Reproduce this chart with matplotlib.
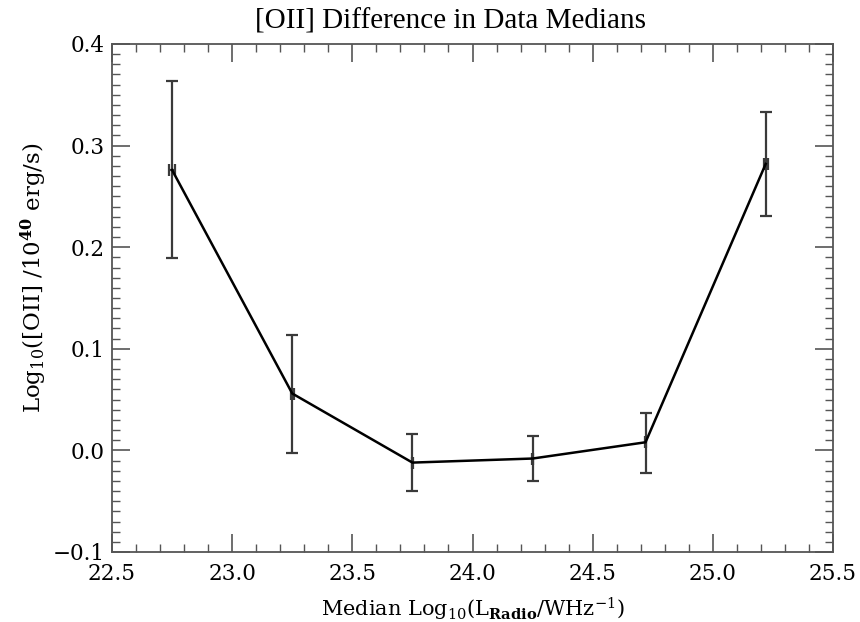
import matplotlib
matplotlib.use("Agg")
import matplotlib.pyplot as plt
from matplotlib.ticker import MultipleLocator

plt.rcParams["font.family"] = ["DejaVu Serif"]
plt.rcParams["mathtext.fontset"] = "dejavuserif"

# Median radio luminosity per bin and the [OII] median difference
radio_lum = [22.75, 23.25, 23.75, 24.25, 24.72, 25.22]
oii_diff = [0.276, 0.056, -0.012, -0.008, 0.008, 0.282]
err_lo = [0.087, 0.059, 0.028, 0.022, 0.030, 0.051]
err_hi = [0.088, 0.058, 0.028, 0.022, 0.029, 0.051]
x_err = [0.011, 0.006, 0.003, 0.003, 0.003, 0.009]

x_ticks = [22.5, 23.0, 23.5, 24.0, 24.5, 25.0, 25.5]
y_ticks = [-0.1, 0.0, 0.1, 0.2, 0.3, 0.4]

fig = plt.figure(figsize=(8.6, 6.22), dpi=100)
ax = fig.add_axes([112 / 860, 1 - 552 / 622, 721 / 860, 508 / 622])

ax.errorbar(radio_lum, oii_diff, yerr=[err_lo, err_hi], xerr=x_err,
            fmt="none", ecolor="#3a3a3a", elinewidth=1.6, capsize=4,
            capthick=1.6, zorder=2)
ax.plot(radio_lum, oii_diff, color="black", lw=1.8, zorder=3)

ax.set_xlim(22.5, 25.5)
ax.set_ylim(-0.1, 0.4)
ax.set_xticks(x_ticks)
ax.set_xticklabels([f"{v:.1f}" for v in x_ticks])
ax.set_yticks(y_ticks)
ax.set_yticklabels([f"{v:.1f}".replace("-", "\u2212") for v in y_ticks])
ax.xaxis.set_minor_locator(MultipleLocator(0.1))
ax.yaxis.set_minor_locator(MultipleLocator(0.01))
ax.tick_params(which="both", direction="in", top=True, right=True,
               color="#555555", labelsize=15.5)
ax.tick_params(axis="x", pad=8)
ax.tick_params(axis="y", pad=5)
ax.tick_params(which="major", length=13, width=1.2)
ax.tick_params(which="minor", length=6, width=1.0)
for s in ax.spines.values():
    s.set_color("#555555")
    s.set_linewidth(1.3)

ax.set_title("[OII] Difference in Data Medians", fontsize=21,
             family="Liberation Serif", x=0.47, pad=11)
ax.set_xlabel(r"Median Log$_{10}$(L$_{\mathbf{Radio}}$/WHz$^{-1}$)",
              fontsize=15, labelpad=8)
ax.set_ylabel(r"Log$_{10}$([OII] /10$^{\mathbf{40}}$ erg/s)",
              fontsize=16.5)
ax.yaxis.set_label_coords(-0.088, 0.54)

fig.savefig("out.png", dpi=100)
